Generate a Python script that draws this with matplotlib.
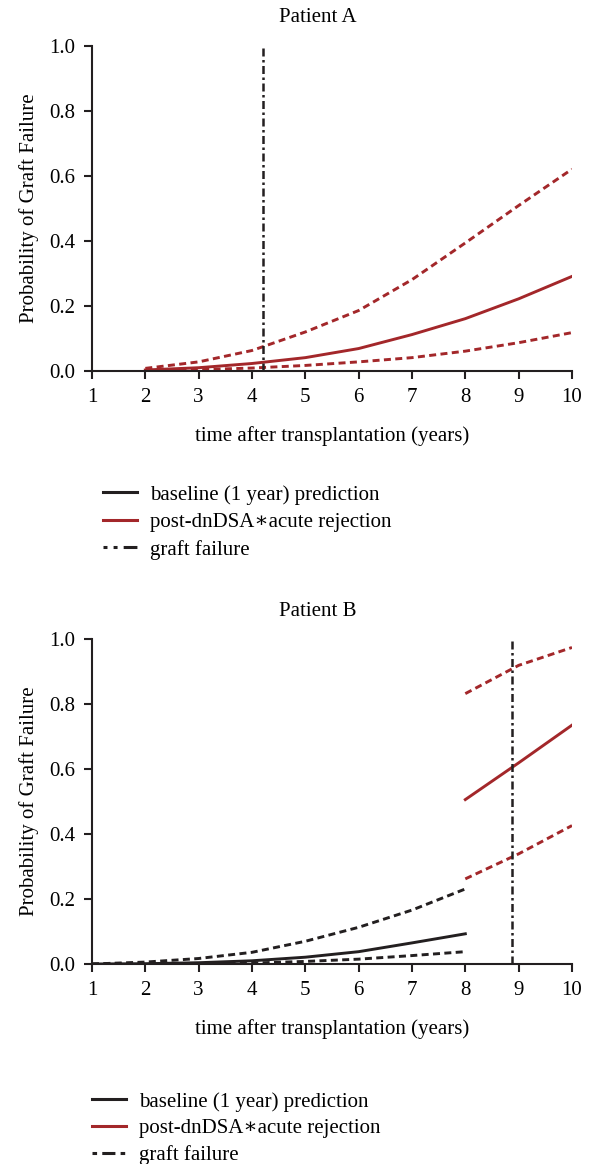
import matplotlib
matplotlib.use('Agg')
import matplotlib.pyplot as plt
from matplotlib.lines import Line2D

plt.rcParams['font.family'] = ['Liberation Serif', 'DejaVu Serif']

red = '#a3272a'
blk = '#231f20'

years = [1, 2, 3, 4, 5, 6, 7, 8, 9, 10]

# patient A
a_base_x = [1, 2]
a_base = [0.0, 0.0]
a_base_lo = [0.0, 0.0]
a_base_hi = [0.0, 0.0]
a_post_x = [2, 3, 4, 5, 6, 7, 8, 9, 10]
a_post = [0.003, 0.010, 0.023, 0.041, 0.069, 0.112, 0.161, 0.222, 0.291]
a_post_hi = [0.008, 0.028, 0.063, 0.120, 0.186, 0.281, 0.394, 0.509, 0.621]
a_post_lo = [0.001, 0.004, 0.009, 0.017, 0.028, 0.041, 0.061, 0.087, 0.118]
a_fail = 4.2

# patient B
b_base_x = [1, 2, 3, 4, 5, 6, 7, 8]
b_base = [0.0, 0.001, 0.004, 0.010, 0.021, 0.038, 0.065, 0.093]
b_base_hi = [0.0, 0.006, 0.017, 0.036, 0.070, 0.113, 0.166, 0.231]
b_base_lo = [0.0, 0.0, 0.001, 0.003, 0.008, 0.015, 0.026, 0.038]
b_post_x = [8, 9, 10]
b_post = [0.506, 0.619, 0.735]
b_post_hi = [0.832, 0.919, 0.974]
b_post_lo = [0.262, 0.339, 0.426]
b_fail = 8.88

yticks = [0.0, 0.2, 0.4, 0.6, 0.8, 1.0]
labels = ['baseline (1 year) prediction', 'post-dnDSA\u2217acute rejection', 'graft failure']

fs = 15
lw = 2.1
cidash = (2.4, 1.5)
vdash = (3.2, 1.4, 1.0, 1.4)

fig = plt.figure(figsize=(5.89, 11.64), dpi=100)
axA = fig.add_axes([0.1562, 0.6813, 0.8149, 0.2792])
axB = fig.add_axes([0.1562, 0.1718, 0.8149, 0.2792])


def panel(ax, bx, b, blo, bhi, px, p, plo, phi, fail):
    ax.plot(bx, b, color=blk, lw=lw)
    ax.plot(bx, bhi, color=blk, lw=lw, dashes=cidash)
    ax.plot(bx, blo, color=blk, lw=lw, dashes=cidash)
    ax.plot(px, p, color=red, lw=lw)
    ax.plot(px, phi, color=red, lw=lw, dashes=cidash)
    ax.plot(px, plo, color=red, lw=lw, dashes=cidash)
    ax.plot([fail, fail], [0, 1], color=blk, lw=1.8, dashes=vdash)
    ax.set_xlim(1, 10)
    ax.set_ylim(0, 1.0)
    ax.set_xticks(years)
    ax.set_yticks(yticks)
    ax.set_yticklabels(['%.1f' % v for v in yticks])
    for s in ['top', 'right']:
        ax.spines[s].set_visible(False)
    for s in ['left', 'bottom']:
        ax.spines[s].set_linewidth(1.5)
        ax.spines[s].set_color(blk)
    ax.tick_params(direction='out', length=6, width=1.5, color=blk, labelsize=fs, pad=6)
    ax.set_xlabel('time after transplantation (years)', fontsize=fs, labelpad=14)
    ax.set_ylabel('Probability of Graft Failure', fontsize=fs, labelpad=7)


panel(axA, a_base_x, a_base, a_base_lo, a_base_hi, a_post_x, a_post, a_post_lo, a_post_hi, a_fail)
panel(axB, b_base_x, b_base, b_base_lo, b_base_hi, b_post_x, b_post, b_post_lo, b_post_hi, b_fail)

fig.text(318 / 589, 1 - 18 / 1164, 'Patient A', ha='center', va='center', fontsize=fs)
fig.text(318 / 589, 1 - 611 / 1164, 'Patient B', ha='center', va='center', fontsize=fs)

handlesA = [Line2D([], [], color=blk, lw=2.2),
            Line2D([], [], color=red, lw=2.2),
            Line2D([], [], color=blk, lw=2.2, dashes=(1.3, 2.0, 1.3, 2.0, 4.5, 1.0))]
handlesB = [Line2D([], [], color=blk, lw=2.2),
            Line2D([], [], color=red, lw=2.2),
            Line2D([], [], color=blk, lw=2.2, dashes=(1.5, 1.7, 4.3, 1.7))]

fig.legend(handlesA, labels, loc='upper left', bbox_to_anchor=(103 / 589, 1 - 485 / 1164),
           frameon=False, fontsize=fs, handlelength=1.65, handletextpad=0.6, labelspacing=0.37,
           borderaxespad=0, borderpad=0)
fig.legend(handlesB, labels, loc='upper left', bbox_to_anchor=(92 / 589, 1 - 1092 / 1164),
           frameon=False, fontsize=fs, handlelength=1.65, handletextpad=0.6, labelspacing=0.33,
           borderaxespad=0, borderpad=0)

fig.savefig('out.png', dpi=100)
